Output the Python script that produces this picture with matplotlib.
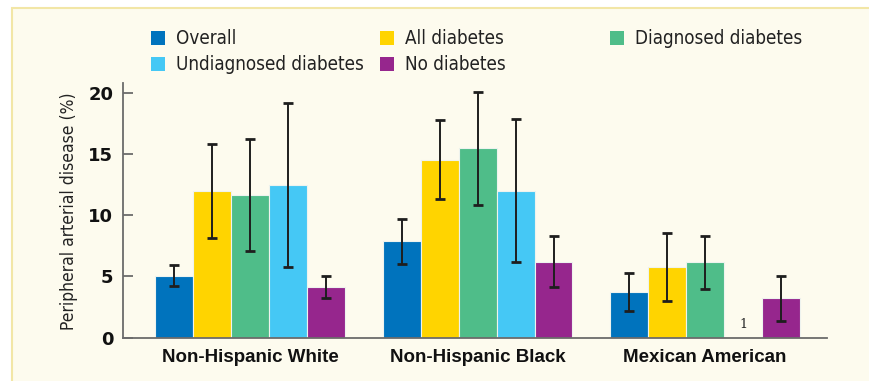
import matplotlib

matplotlib.use("Agg")
import matplotlib.pyplot as plt
import numpy as np
from matplotlib.patches import Rectangle

# Values (percent), NaN = not shown.
groups = ["Non-Hispanic White", "Non-Hispanic Black", "Mexican American"]
series = ["Overall", "All diabetes", "Diagnosed diabetes",
          "Undiagnosed diabetes", "No diabetes"]

overall = [5.06, 7.89, 3.73]
overall_lo = [4.22, 6.04, 2.20]
overall_hi = [5.96, 9.71, 5.31]

all_diab = [11.95, 14.50, 5.75]
all_diab_lo = [8.16, 11.35, 3.02]
all_diab_hi = [15.84, 17.80, 8.57]

diagnosed = [11.67, 15.46, 6.18]
diagnosed_lo = [7.08, 10.86, 3.98]
diagnosed_hi = [16.24, 20.08, 8.33]

undiagnosed = [12.49, 12.00, np.nan]
undiagnosed_lo = [5.80, 6.20, np.nan]
undiagnosed_hi = [19.18, 17.88, np.nan]

no_diab = [4.11, 6.18, 3.22]
no_diab_lo = [3.24, 4.16, 1.39]
no_diab_hi = [5.06, 8.33, 5.06]

footnote = "1"  # marks the missing Mexican American undiagnosed bar

colors = ["#0073bd", "#ffd400", "#4fbd89", "#45c8f5", "#96268d"]

BG = "#fdfbee"
BORDER = "#f2e6a6"
W, H = 870, 381
NARROW = dict(family="DejaVu Sans", stretch="condensed")

values = [overall, all_diab, diagnosed, undiagnosed, no_diab]
lows = [overall_lo, all_diab_lo, diagnosed_lo, undiagnosed_lo, no_diab_lo]
highs = [overall_hi, all_diab_hi, diagnosed_hi, undiagnosed_hi, no_diab_hi]

fig = plt.figure(figsize=(W / 100, H / 100), dpi=100)
fig.patch.set_facecolor("white")
fig.patches.append(
    Rectangle((12 / W, -0.05), 1.0, 1.05 - 8 / H, transform=fig.transFigure,
              facecolor=BG, edgecolor=BORDER, linewidth=1.5, zorder=-5)
)

ax = fig.add_axes([123 / W, 1 - 337.7 / H, 704 / W, 254.4 / H])
ax.set_facecolor("none")

x = np.arange(len(groups))
width = 0.167
for i, (name, vals, lo, hi, col) in enumerate(zip(series, values, lows, highs, colors)):
    vals = np.asarray(vals, dtype=float)
    pos = x + (i - 2) * width
    ax.bar(pos, vals, width, color=col, edgecolor="#eef3ee", linewidth=0.8,
           label=name, zorder=2)
    yerr = [vals - np.asarray(lo), np.asarray(hi) - vals]
    ax.errorbar(pos, vals, yerr=yerr, fmt="none", ecolor="#1e1e1e",
                elinewidth=1.4, capsize=3.3, capthick=2, zorder=3)
    # footnote where a bar is missing
    for p, v in zip(pos, vals):
        if np.isnan(v):
            ax.text(p, 1.1, footnote, ha="center", va="center", fontsize=9,
                    family="DejaVu Serif", color="#222222")

ax.set_xlim(-0.558, 2.536)
ax.set_ylim(0, 20.77)
ax.set_yticks([0, 5, 10, 15, 20])
ax.set_xticks(x)
ax.set_xticklabels(groups, fontsize=13.5, fontweight="bold",
                   family="Liberation Sans", color="#111111")
ax.tick_params(axis="x", length=0, pad=8)
ax.tick_params(axis="y", direction="in", length=7, width=1.3, color="#6b6b6b",
               pad=7, labelsize=13)
for lbl in ax.get_yticklabels():
    lbl.set_fontweight("bold")
    lbl.set_color("#111111")

for side in ("top", "right"):
    ax.spines[side].set_visible(False)
for side in ("left", "bottom"):
    ax.spines[side].set_color("#6b6b6b")
    ax.spines[side].set_linewidth(1.3)

ax.text((68.5 - 123) / 704, (337.7 - 211.5) / 254.4,
        "Peripheral arterial disease (%)", transform=ax.transAxes,
        rotation=90, ha="center", va="center", fontsize=12.5,
        color="#222222", **NARROW)

# Legend drawn by hand: columns are not evenly spaced in the original.
legend_pos = [(151, 31), (380, 31), (610, 31), (151, 57), (380, 57)]
for (px, py), name, col in zip(legend_pos, series, colors):
    fig.patches.append(
        Rectangle((px / W, 1 - (py + 13.5) / H), 14 / W, 13.5 / H,
                  transform=fig.transFigure, facecolor=col, edgecolor="none")
    )
    fig.text((px + 25) / W, 1 - (py + 7) / H, name, ha="left", va="center",
             fontsize=13.5, color="#222222", **NARROW)

fig.savefig("out.png", dpi=100, facecolor=fig.get_facecolor())
